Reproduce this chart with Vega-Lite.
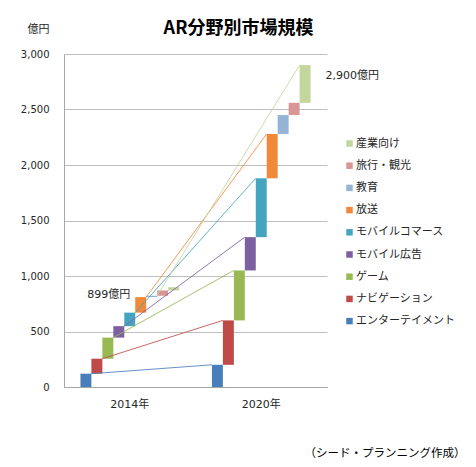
{
  "$schema": "https://vega.github.io/schema/vega-lite/v6.json",
  "width": 263,
  "height": 333,
  "autosize": "none",
  "padding": {"left": 64, "top": 54, "right": 149, "bottom": 80},
  "background": "white",
  "config": {"view": {"stroke": null}, "font": "DejaVu Sans, Noto Sans CJK JP"},
  "title": {"text": "AR分野別市場規模", "font": "Noto Sans CJK JP", "fontSize": 18, "fontWeight": "bold", "color": "#000000", "anchor": "middle", "frame": "group", "dx": 43, "dy": 15, "offset": 0},
  "datasets": {
    "bars": [
      {"year": "2014", "category": "エンターテイメント", "key": "2014 エンターテイメント", "start": 0, "value": 120},
      {"year": "2014", "category": "ナビゲーション", "key": "2014 ナビゲーション", "start": 120, "value": 255},
      {"year": "2014", "category": "ゲーム", "key": "2014 ゲーム", "start": 255, "value": 445},
      {"year": "2014", "category": "モバイル広告", "key": "2014 モバイル広告", "start": 445, "value": 548},
      {"year": "2014", "category": "モバイルコマース", "key": "2014 モバイルコマース", "start": 548, "value": 670},
      {"year": "2014", "category": "放送", "key": "2014 放送", "start": 670, "value": 810},
      {"year": "2014", "category": "教育", "key": "2014 教育", "start": 810, "value": 822},
      {"year": "2014", "category": "旅行・観光", "key": "2014 旅行・観光", "start": 822, "value": 870},
      {"year": "2014", "category": "産業向け", "key": "2014 産業向け", "start": 870, "value": 899},
      {"year": "2020", "category": "エンターテイメント", "key": "2020 エンターテイメント", "start": 0, "value": 200},
      {"year": "2020", "category": "ナビゲーション", "key": "2020 ナビゲーション", "start": 200, "value": 600},
      {"year": "2020", "category": "ゲーム", "key": "2020 ゲーム", "start": 600, "value": 1050},
      {"year": "2020", "category": "モバイル広告", "key": "2020 モバイル広告", "start": 1050, "value": 1350},
      {"year": "2020", "category": "モバイルコマース", "key": "2020 モバイルコマース", "start": 1350, "value": 1880},
      {"year": "2020", "category": "放送", "key": "2020 放送", "start": 1880, "value": 2280},
      {"year": "2020", "category": "教育", "key": "2020 教育", "start": 2280, "value": 2450},
      {"year": "2020", "category": "旅行・観光", "key": "2020 旅行・観光", "start": 2450, "value": 2560},
      {"year": "2020", "category": "産業向け", "key": "2020 産業向け", "start": 2560, "value": 2900}
    ],
    "links": [
      {"category": "エンターテイメント", "key": "2014 ナビゲーション", "value": 120},
      {"category": "エンターテイメント", "key": "2020 エンターテイメント", "value": 200},
      {"category": "ナビゲーション", "key": "2014 ゲーム", "value": 255},
      {"category": "ナビゲーション", "key": "2020 ナビゲーション", "value": 600},
      {"category": "ゲーム", "key": "2014 モバイル広告", "value": 445},
      {"category": "ゲーム", "key": "2020 ゲーム", "value": 1050},
      {"category": "モバイル広告", "key": "2014 モバイルコマース", "value": 548},
      {"category": "モバイル広告", "key": "2020 モバイル広告", "value": 1350},
      {"category": "モバイルコマース", "key": "2014 放送", "value": 670},
      {"category": "モバイルコマース", "key": "2020 モバイルコマース", "value": 1880},
      {"category": "放送", "key": "2014 教育", "value": 810},
      {"category": "放送", "key": "2020 放送", "value": 2280},
      {"category": "産業向け", "key": "2014 旅行・観光", "value": 822},
      {"category": "産業向け", "key": "2020 産業向け", "value": 2900}
    ],
    "notes": [
      {"label": "2,900億円", "key": "2020 産業向け", "value": 2800},
      {"label": "899億円", "key": "2014 放送", "value": 830}
    ]
  },
  "layer": [
    {
      "data": {"name": "bars"},
      "mark": {"type": "bar"},
      "encoding": {
        "x": {"field": "key", "type": "nominal",
          "scale": {"type": "band", "paddingInner": 0, "paddingOuter": 0.5, "domain": ["_l", "2014 エンターテイメント", "2014 ナビゲーション", "2014 ゲーム", "2014 モバイル広告", "2014 モバイルコマース", "2014 放送", "2014 教育", "2014 旅行・観光", "2014 産業向け", "_m1", "_m2", "_m3", "2020 エンターテイメント", "2020 ナビゲーション", "2020 ゲーム", "2020 モバイル広告", "2020 モバイルコマース", "2020 放送", "2020 教育", "2020 旅行・観光", "2020 産業向け", "_r"]},
          "axis": {"values": ["2014 モバイルコマース", "2020 モバイルコマース"], "labelExpr": "substring(datum.value, 0, 4) + '年'", "ticks": false, "grid": false, "labelAngle": 0, "labelFontSize": 11, "labelColor": "#262626", "labelPadding": 11, "domainColor": "#A6A6A6", "title": "（シード・プランニング作成）", "titleFont": "Noto Sans CJK JP", "titleFontSize": 11.5, "titleFontWeight": "normal", "titleColor": "#000000", "titleX": 401, "titleY": 66, "titleAlign": "right", "titleAnchor": "end", "titleBaseline": "middle"}},
        "y": {"field": "value", "type": "quantitative",
          "scale": {"domain": [0, 3000], "nice": false},
          "axis": {"values": [0, 500, 1000, 1500, 2000, 2500, 3000], "format": ",.0f", "ticks": false, "labelFontSize": 10, "labelColor": "#262626", "labelPadding": 15, "gridColor": "#BFBFBF", "domainColor": "#A6A6A6", "title": "億円", "titleAngle": 0, "titleX": -15, "titleY": -25, "titleAlign": "right", "titleBaseline": "middle", "titleFont": "Noto Sans CJK JP", "titleFontSize": 11, "titleFontWeight": "normal", "titleColor": "#262626"}},
        "y2": {"field": "start"},
        "color": {"field": "category", "type": "nominal",
          "scale": {"domain": ["産業向け", "旅行・観光", "教育", "放送", "モバイルコマース", "モバイル広告", "ゲーム", "ナビゲーション", "エンターテイメント"], "range": ["#C3D69B", "#D99694", "#95B3D7", "#F08A3A", "#45A5C0", "#7D60A0", "#98B954", "#BE4B48", "#4A7EBB"]},
          "legend": {"orient": "none", "legendX": 280, "legendY": 84, "title": null, "symbolType": "square", "symbolSize": 42, "symbolStrokeWidth": 0, "symbolOpacity": 1, "labelFont": "Noto Sans CJK JP", "labelFontSize": 11, "labelColor": "#262626", "labelOffset": 1, "rowPadding": 10.2, "padding": 0}}
      }
    },
    {
      "data": {"name": "links"},
      "mark": {"type": "line", "strokeWidth": 1, "opacity": 0.85},
      "encoding": {
        "x": {"field": "key", "type": "nominal", "bandPosition": 0,
          "scale": {"type": "band", "paddingInner": 0, "paddingOuter": 0.5, "domain": ["_l", "2014 エンターテイメント", "2014 ナビゲーション", "2014 ゲーム", "2014 モバイル広告", "2014 モバイルコマース", "2014 放送", "2014 教育", "2014 旅行・観光", "2014 産業向け", "_m1", "_m2", "_m3", "2020 エンターテイメント", "2020 ナビゲーション", "2020 ゲーム", "2020 モバイル広告", "2020 モバイルコマース", "2020 放送", "2020 教育", "2020 旅行・観光", "2020 産業向け", "_r"]},
          "axis": {"values": ["2014 モバイルコマース", "2020 モバイルコマース"], "labelExpr": "substring(datum.value, 0, 4) + '年'", "ticks": false, "grid": false, "labelAngle": 0, "labelFontSize": 11, "labelColor": "#262626", "labelPadding": 11, "domainColor": "#A6A6A6", "title": "（シード・プランニング作成）", "titleFont": "Noto Sans CJK JP", "titleFontSize": 11.5, "titleFontWeight": "normal", "titleColor": "#000000", "titleX": 401, "titleY": 66, "titleAlign": "right", "titleAnchor": "end", "titleBaseline": "middle"}},
        "y": {"field": "value", "type": "quantitative",
          "scale": {"domain": [0, 3000], "nice": false},
          "axis": {"values": [0, 500, 1000, 1500, 2000, 2500, 3000], "format": ",.0f", "ticks": false, "labelFontSize": 10, "labelColor": "#262626", "labelPadding": 15, "gridColor": "#BFBFBF", "domainColor": "#A6A6A6", "title": "億円", "titleAngle": 0, "titleX": -15, "titleY": -25, "titleAlign": "right", "titleBaseline": "middle", "titleFont": "Noto Sans CJK JP", "titleFontSize": 11, "titleFontWeight": "normal", "titleColor": "#262626"}},
        "color": {"field": "category", "type": "nominal",
          "scale": {"domain": ["産業向け", "旅行・観光", "教育", "放送", "モバイルコマース", "モバイル広告", "ゲーム", "ナビゲーション", "エンターテイメント"], "range": ["#C3D69B", "#D99694", "#95B3D7", "#F08A3A", "#45A5C0", "#7D60A0", "#98B954", "#BE4B48", "#4A7EBB"]},
          "legend": {"orient": "none", "legendX": 280, "legendY": 84, "title": null, "symbolType": "square", "symbolSize": 42, "symbolStrokeWidth": 0, "symbolOpacity": 1, "labelFont": "Noto Sans CJK JP", "labelFontSize": 11, "labelColor": "#262626", "labelOffset": 1, "rowPadding": 10.2, "padding": 0}},
        "detail": {"field": "category", "type": "nominal"}
      }
    },
    {
      "data": {"name": "notes"},
      "transform": [{"filter": "datum.label == '2,900億円'"}],
      "mark": {"type": "text", "align": "left", "baseline": "middle", "dx": 15, "fontSize": 11, "color": "#262626"},
      "encoding": {
        "x": {"field": "key", "type": "nominal", "bandPosition": 1,
          "scale": {"type": "band", "paddingInner": 0, "paddingOuter": 0.5, "domain": ["_l", "2014 エンターテイメント", "2014 ナビゲーション", "2014 ゲーム", "2014 モバイル広告", "2014 モバイルコマース", "2014 放送", "2014 教育", "2014 旅行・観光", "2014 産業向け", "_m1", "_m2", "_m3", "2020 エンターテイメント", "2020 ナビゲーション", "2020 ゲーム", "2020 モバイル広告", "2020 モバイルコマース", "2020 放送", "2020 教育", "2020 旅行・観光", "2020 産業向け", "_r"]}},
        "y": {"field": "value", "type": "quantitative", "scale": {"domain": [0, 3000], "nice": false}},
        "text": {"field": "label"}
      }
    },
    {
      "data": {"name": "notes"},
      "transform": [{"filter": "datum.label == '899億円'"}],
      "mark": {"type": "text", "align": "right", "baseline": "middle", "dx": -5, "fontSize": 11, "color": "#262626"},
      "encoding": {
        "x": {"field": "key", "type": "nominal", "bandPosition": 0,
          "scale": {"type": "band", "paddingInner": 0, "paddingOuter": 0.5, "domain": ["_l", "2014 エンターテイメント", "2014 ナビゲーション", "2014 ゲーム", "2014 モバイル広告", "2014 モバイルコマース", "2014 放送", "2014 教育", "2014 旅行・観光", "2014 産業向け", "_m1", "_m2", "_m3", "2020 エンターテイメント", "2020 ナビゲーション", "2020 ゲーム", "2020 モバイル広告", "2020 モバイルコマース", "2020 放送", "2020 教育", "2020 旅行・観光", "2020 産業向け", "_r"]}},
        "y": {"field": "value", "type": "quantitative", "scale": {"domain": [0, 3000], "nice": false}},
        "text": {"field": "label"}
      }
    }
  ]
}
